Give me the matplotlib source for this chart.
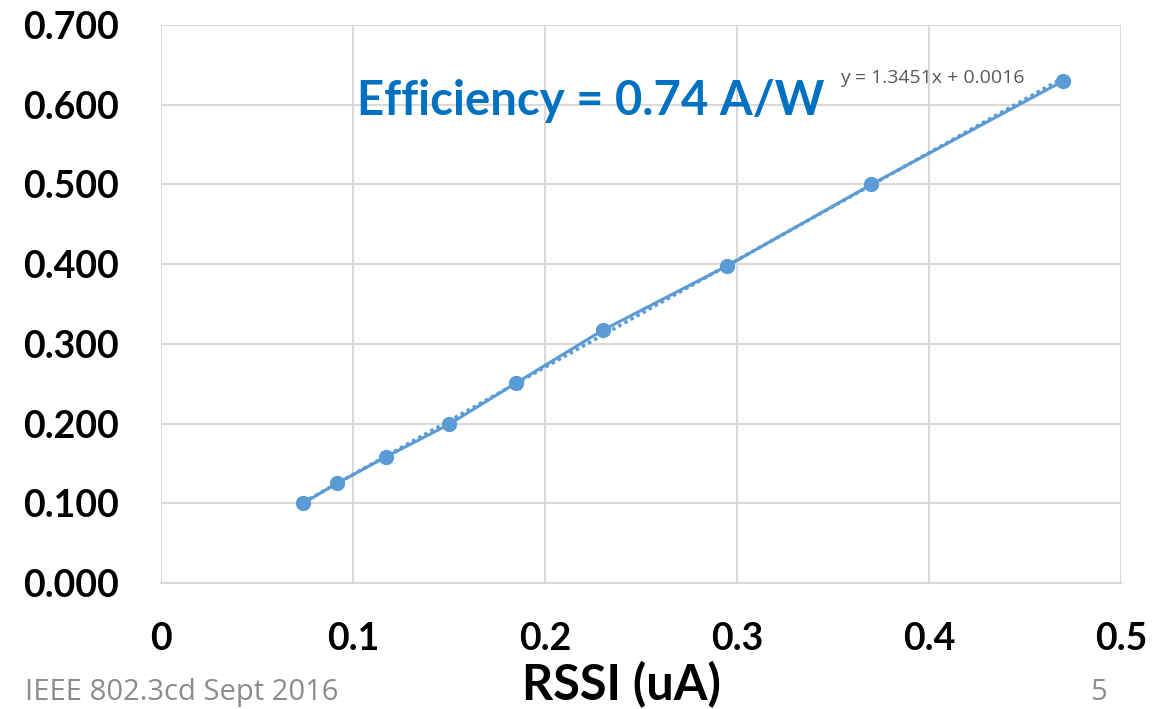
import numpy as np
import matplotlib.pyplot as plt

# RSSI (uA) vs optical power readings
rssi = [0.074, 0.0917, 0.117, 0.150, 0.185, 0.230, 0.295, 0.370, 0.470]
power = [0.100, 0.125, 0.158, 0.199, 0.251, 0.317, 0.398, 0.500, 0.630]

slope = 1.3451
intercept = 0.0016

xticks = [0, 0.1, 0.2, 0.3, 0.4, 0.5]
xticklabels = ["0", "0.1", "0.2", "0.3", "0.4", "0.5"]
yticks = [0.0, 0.1, 0.2, 0.3, 0.4, 0.5, 0.6, 0.7]
yticklabels = ["%.3f" % v for v in yticks]

blue = "#5B9BD5"
font = "Lato"

fig = plt.figure(figsize=(11.76, 7.09), dpi=100)
ax = fig.add_axes([161 / 1176, 1 - 583 / 709, 960 / 1176, 558 / 709])

# trendline (dotted) under the data line
xt = np.array([min(rssi), max(rssi)])
ax.plot(xt, slope * xt + intercept, ls=(0, (1, 1)), color=blue, lw=2.5, zorder=2)
ax.plot(rssi, power, color=blue, lw=2.2, marker="o", ms=10, zorder=3)

ax.set_xlim(0, 0.5)
ax.set_ylim(0, 0.7)
ax.set_xticks(xticks)
ax.set_xticklabels(xticklabels)
ax.set_yticks(yticks)
ax.set_yticklabels(yticklabels)
ax.grid(True, color="#D9D9D9", lw=1.5)
ax.set_axisbelow(True)
for s in ["top", "right", "left"]:
    ax.spines[s].set_visible(False)
ax.spines["bottom"].set_color("#D9D9D9")
ax.spines["bottom"].set_linewidth(1.5)
ax.tick_params(length=0)
ax.tick_params(axis="y", pad=30)
ax.tick_params(axis="x", pad=28)
for lab in ax.get_xticklabels() + ax.get_yticklabels():
    lab.set_fontfamily(font)
    lab.set_fontweight("bold")
    lab.set_fontsize(27)

ax.set_xlabel("RSSI (uA)", fontfamily=font, fontweight="bold", fontsize=35, labelpad=4)
ax.xaxis.label.set_x(0.48)

ax.text(0.102, 0.5866, "Efficiency = 0.74 A/W", fontfamily=font, fontweight="bold",
        fontsize=34, color="#0070C0", va="baseline", ha="left")
ax.text(0.3535, 0.633, "y = 1.3451x + 0.0016", fontfamily="Open Sans", fontsize=14,
        color="#595959", va="center", ha="left")

fig.text(25 / 1176, 0.003, "IEEE 802.3cd Sept 2016", fontfamily="Open Sans",
         fontsize=21, color="#8C8C8C", va="bottom", ha="left")
fig.text(1090 / 1176, 0.003, "5", fontfamily="Open Sans",
         fontsize=21, color="#8C8C8C", va="bottom", ha="left")

fig.savefig("out.png", dpi=100)
